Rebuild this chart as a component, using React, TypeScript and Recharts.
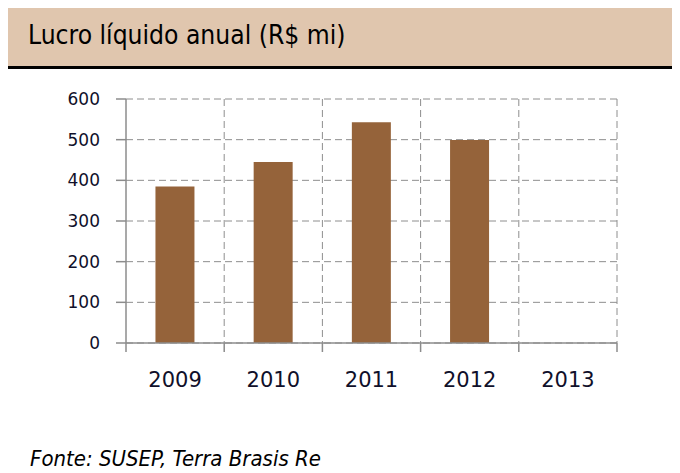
import React from "react";
import { BarChart, Bar, XAxis, YAxis, CartesianGrid } from "recharts";

const years = ["2009", "2010", "2011", "2012", "2013"];
const lucro: (number | null)[] = [385, 445, 543, 499, null];
const yTicks = [0, 100, 200, 300, 400, 500, 600];

const data = years.map((y, i) => ({ year: y, lucro: lucro[i] }));

const FONT = "Tahoma, 'DejaVu Sans', sans-serif";
const COND = "'DejaVu Sans Condensed', 'DejaVu Sans', sans-serif";
const AXIS = "#8c8c8c";
const LABEL = "#10102a";

const XTick = (props: any) => {
  const { x, y, payload, index, width, visibleTicksCount } = props;
  const n = visibleTicksCount || years.length;
  const band = (width || 491) / n;
  const left = x - band / 2;
  return (
    <g>
      <line x1={left} x2={left} y1={y} y2={y + 9} stroke={AXIS} strokeWidth={1.5} />
      {index === n - 1 ? (
        <line x1={left + band} x2={left + band} y1={y} y2={y + 9} stroke={AXIS} strokeWidth={1.5} />
      ) : null}
      <text x={x} y={y + 44} textAnchor="middle" fontFamily={FONT} fontSize={21} fill={LABEL}>
        {payload.value}
      </text>
    </g>
  );
};

export default function App() {
  return (
    <div style={{ position: "relative", width: 667, height: 465, fontFamily: FONT }}>
      <div
        style={{
          position: "absolute",
          left: 0,
          top: 0,
          width: 667,
          height: 58,
          background: "#e0c6ae",
          borderBottom: "3px solid #000",
        }}
      />
      <div
        style={{
          position: "absolute",
          left: 20,
          top: 12,
          fontSize: 26.2,
          lineHeight: "31px",
          color: "#000",
          fontFamily: COND,
          whiteSpace: "nowrap",
        }}
      >
        Lucro líquido anual (R$ mi)
      </div>
      <div style={{ position: "absolute", left: 0, top: 0 }}>
        <BarChart
          width={667}
          height={465}
          data={data}
          margin={{ top: 91, right: 58, left: 58, bottom: 90 }}
          barCategoryGap="30%"
        >
          <CartesianGrid
            stroke="#8e8e8e"
            strokeDasharray="7 4"
            verticalCoordinatesGenerator={({ offset }: any) =>
              years.map((_, i) => offset.left + ((i + 1) * offset.width) / years.length)
            }
          />
          <XAxis
            dataKey="year"
            height={40}
            axisLine={{ stroke: AXIS, strokeWidth: 1.5 }}
            tickLine={false}
            tickSize={0}
            tickMargin={0}
            tick={<XTick />}
            interval={0}
          />
          <YAxis
            width={60}
            domain={[0, 600]}
            ticks={yTicks}
            interval={0}
            axisLine={{ stroke: AXIS, strokeWidth: 1.5 }}
            tickLine={{ stroke: AXIS, strokeWidth: 1.5 }}
            tickSize={10}
            tickMargin={16}
            tick={{ fontFamily: FONT, fontSize: 17, fill: LABEL }}
          />
          <Bar dataKey="lucro" fill="#95633a" isAnimationActive={false} />
        </BarChart>
      </div>
      <div
        style={{
          position: "absolute",
          left: 22,
          top: 437,
          fontSize: 22,
          lineHeight: "27px",
          fontStyle: "italic",
          color: "#000",
          fontFamily: COND,
          whiteSpace: "nowrap",
        }}
      >
        Fonte: SUSEP, Terra Brasis Re
      </div>
    </div>
  );
}
